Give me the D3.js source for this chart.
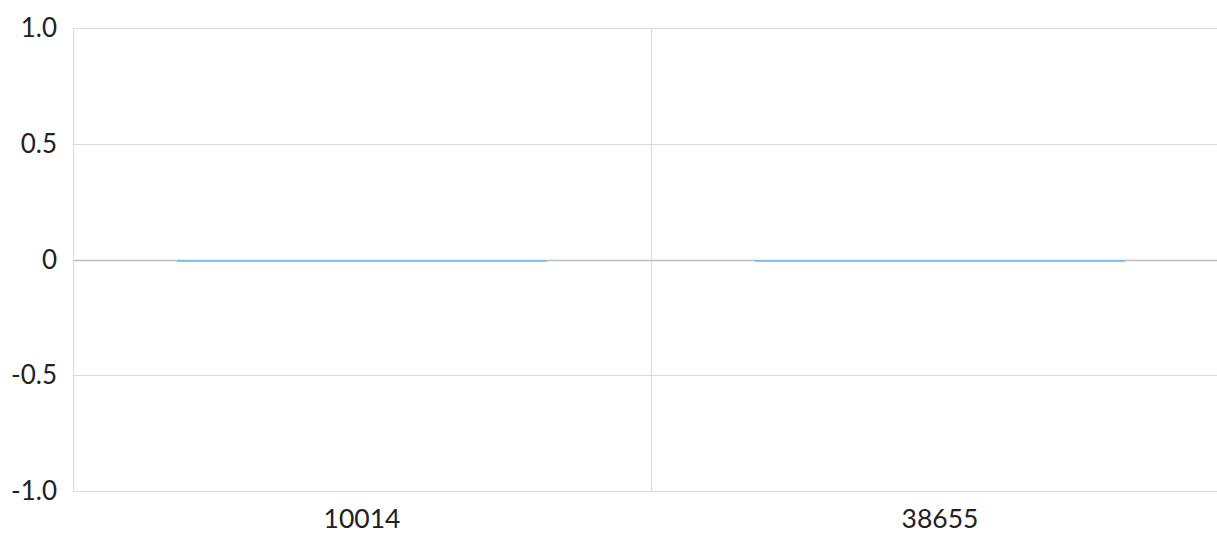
<!DOCTYPE html>
<html>
<head>
<meta charset="utf-8">
<script src="https://cdn.jsdelivr.net/npm/d3@7"></script>
<style>
  body { margin: 0; background: #fff; overflow: hidden; }
  text { font-family: Lato, "Open Sans", sans-serif; fill: #222; }
</style>
</head>
<body>
<script>
// chart data
var categories = ["10014", "38655"];
var values = [-0.008, -0.008];
var yTicks = [-1.0, -0.5, 0, 0.5, 1.0];
var yTickLabels = ["-1.0", "-0.5", "0", "0.5", "1.0"];

var width = 1217, height = 534;
var margin = {left: 73, top: 28, bottom: 43};
var plotRight = 1229;

var svg = d3.select("body").append("svg")
  .attr("width", width)
  .attr("height", height);

var x = d3.scaleBand()
  .domain(categories)
  .range([margin.left, plotRight])
  .paddingInner(0)
  .paddingOuter(0);

var y = d3.scaleLinear()
  .domain([-1, 1])
  .range([height - margin.bottom, margin.top]);

// horizontal grid lines
svg.append("g").selectAll("line")
  .data(yTicks)
  .enter().append("line")
  .attr("x1", margin.left)
  .attr("x2", plotRight)
  .attr("y1", function(d) { return Math.round(y(d)) + 0.5; })
  .attr("y2", function(d) { return Math.round(y(d)) + 0.5; })
  .attr("stroke", function(d) { return d === 0 ? "#bdbdbd" : "#d9d9d9"; })
  .attr("stroke-width", function(d) { return d === 0 ? 1.5 : 1; });

// vertical lines: left axis and category separators
var seps = [margin.left].concat(categories.slice(1).map(function(c) { return x(c); }));
svg.append("g").selectAll("line")
  .data(seps)
  .enter().append("line")
  .attr("x1", function(d) { return Math.round(d) + 0.5; })
  .attr("x2", function(d) { return Math.round(d) + 0.5; })
  .attr("y1", y(1))
  .attr("y2", y(-1))
  .attr("stroke", "#d9d9d9");

// bars
var barW = x.bandwidth() * 0.64;
svg.append("g").selectAll("rect")
  .data(values)
  .enter().append("rect")
  .attr("x", function(d, i) { return x(categories[i]) + (x.bandwidth() - barW) / 2; })
  .attr("width", barW)
  .attr("y", function(d) { return y(Math.max(0, d)) + 0.5; })
  .attr("height", function(d) { return Math.abs(y(d) - y(0)); })
  .attr("fill", "#7cbfe2");

// y labels
svg.append("g").selectAll("text")
  .data(yTicks)
  .enter().append("text")
  .attr("x", 57)
  .attr("y", function(d) { return y(d); })
  .attr("dy", "0.35em")
  .attr("text-anchor", "end")
  .style("font-size", "26px")
  .text(function(d, i) { return yTickLabels[i]; });

// x labels
svg.append("g").selectAll("text")
  .data(categories)
  .enter().append("text")
  .attr("x", function(d) { return x(d) + x.bandwidth() / 2; })
  .attr("y", 519)
  .attr("dy", "0.35em")
  .attr("text-anchor", "middle")
  .style("font-size", "26.5px")
  .text(function(d) { return d; });
</script>
</body>
</html>
